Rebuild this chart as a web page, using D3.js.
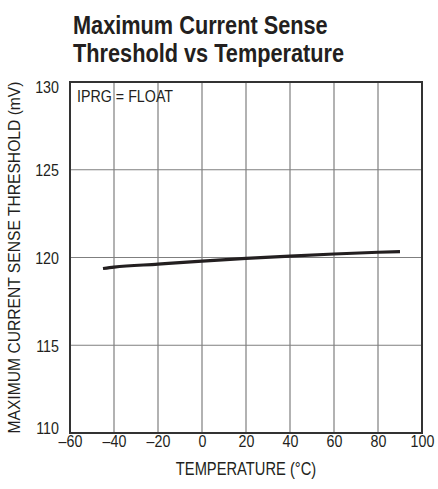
<!DOCTYPE html>
<html>
<head>
<meta charset="utf-8">
<script src="https://cdn.jsdelivr.net/npm/d3@7"></script>
<style>
  body { margin: 0; background: #fff; }
  svg { display: block; }
  text { font-family: "Liberation Sans", Arial, Helvetica, sans-serif; fill: #231f20; }
</style>
</head>
<body>
<svg id="chart" width="438" height="489"></svg>
<script>
const temps = [-45, -40, -20, 0, 20, 40, 60, 80, 90];
const threshold = [119.37, 119.45, 119.62, 119.79, 119.95, 120.08, 120.2, 120.3, 120.34];
const xTicks = [-60, -40, -20, 0, 20, 40, 60, 80, 100];
const yTicks = [110, 115, 120, 125, 130];
const titleLines = ["Maximum Current Sense", "Threshold vs Temperature"];

const svg = d3.select("#chart");
const pL = 70, pR = 422, pT = 82, pB = 433;
const SX = 0.84; // condensed look

const x = d3.scaleLinear().domain([-60, 100]).range([pL, pR]);
const y = d3.scaleLinear().domain([110, 130]).range([pB, pT]);

// title
svg.selectAll(".title").data(titleLines).enter().append("text")
  .attr("transform", (d, i) => `translate(73,${34 + i * 28}) scale(0.82,1)`)
  .style("font-size", "26.5px").style("font-weight", "bold")
  .text(d => d);

// gridlines
const g = svg.append("g");
g.selectAll(".vx").data(xTicks.slice(1, -1)).enter().append("line")
  .attr("x1", d => x(d)).attr("x2", d => x(d))
  .attr("y1", pT).attr("y2", pB)
  .attr("stroke", "#7f7f7f").attr("stroke-width", 1.2);
g.selectAll(".hy").data(yTicks.slice(1, -1)).enter().append("line")
  .attr("x1", pL).attr("x2", pR)
  .attr("y1", d => y(d)).attr("y2", d => y(d))
  .attr("stroke", "#7f7f7f").attr("stroke-width", 1.2);

// frame
svg.append("rect").attr("x", pL).attr("y", pT)
  .attr("width", pR - pL).attr("height", pB - pT)
  .attr("fill", "none").attr("stroke", "#333").attr("stroke-width", 2);

// x axis labels
const xAxis = svg.append("g").attr("transform", `translate(0,${pB})`)
  .call(d3.axisBottom(x).tickValues(xTicks).tickSize(0)
    .tickFormat(d => d < 0 ? "\u2013" + Math.abs(d) : d));
xAxis.select(".domain").remove();
xAxis.selectAll("text").style("font-size", "17px").attr("fill", "#231f20")
  .attr("y", 0).attr("dy", 0)
  .attr("transform", `translate(0,14) scale(${SX},1)`);

// y axis labels
const yAxis = svg.append("g").attr("transform", `translate(${pL},0)`)
  .call(d3.axisLeft(y).tickValues(yTicks).tickSize(0));
yAxis.select(".domain").remove();
yAxis.selectAll("text").style("font-size", "17px").attr("fill", "#231f20")
  .attr("x", 0).attr("dy", 0)
  .attr("transform", d => `translate(-11,${d === 130 ? 10 : d === 110 ? 0 : 6}) scale(${SX},1)`);

// curve
const line = d3.line().x((d, i) => x(temps[i])).y(d => y(d)).curve(d3.curveMonotoneX);
svg.append("path").datum(threshold)
  .attr("d", line).attr("fill", "none")
  .attr("stroke", "#231f20").attr("stroke-width", 3.2);

// annotation
svg.append("text").attr("transform", `translate(77,102) scale(${SX},1)`)
  .style("font-size", "17px").text("IPRG = FLOAT");

// axis titles
svg.append("text").attr("transform", `translate(${(pL + pR) / 2},475) scale(${SX},1)`)
  .attr("text-anchor", "middle").style("font-size", "17.5px")
  .text("TEMPERATURE (\u00B0C)");
svg.append("text").attr("transform", `translate(20,${(pT + pB) / 2}) rotate(-90)`)
  .attr("text-anchor", "middle").style("font-size", "17px")
  .attr("textLength", 352).attr("lengthAdjust", "spacingAndGlyphs")
  .text("MAXIMUM CURRENT SENSE THRESHOLD (mV)");
</script>
</body>
</html>
